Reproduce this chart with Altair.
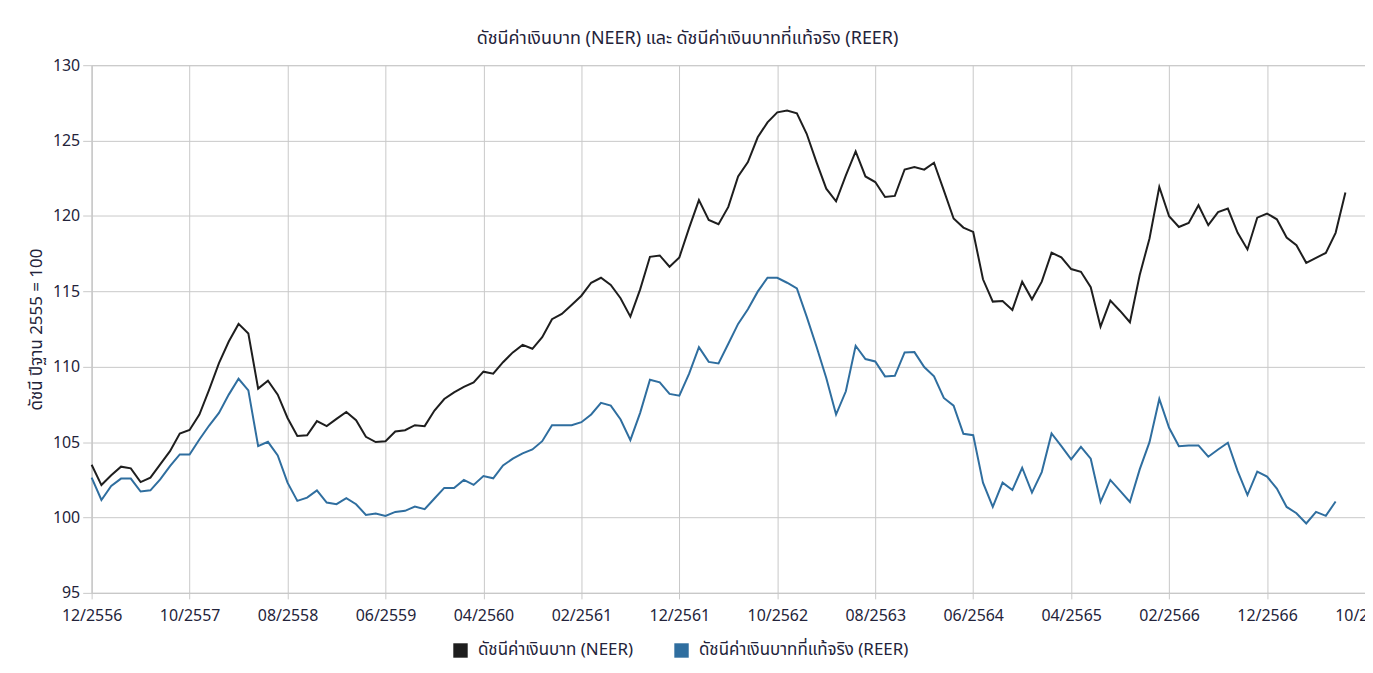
import altair as alt
import pandas as pd

# Monthly index values, first point = 12/2556
neer = [103.5, 102.15, 102.8, 103.37, 103.26, 102.35, 102.64, 103.52, 104.4, 105.57,
        105.8, 106.83, 108.48, 110.24, 111.67, 112.84, 112.2, 108.55, 109.07, 108.15,
        106.6, 105.4, 105.45, 106.39, 106.06, 106.54, 107.0, 106.45, 105.35, 105.0,
        105.06, 105.7, 105.79, 106.12, 106.06, 107.09, 107.86, 108.3, 108.66, 108.96,
        109.67, 109.54, 110.3, 110.95, 111.45, 111.19, 111.96, 113.15, 113.5, 114.1,
        114.71, 115.57, 115.9, 115.42, 114.54, 113.32, 115.13, 117.29, 117.38, 116.63,
        117.25, 119.21, 121.05, 119.74, 119.45, 120.6, 122.62, 123.57, 125.22, 126.21,
        126.87, 126.99, 126.81, 125.45, 123.57, 121.81, 120.97, 122.69, 124.28, 122.62,
        122.25, 121.26, 121.33, 123.08, 123.24, 123.07, 123.53, 121.7, 119.83, 119.23,
        118.94, 115.8, 114.32, 114.36, 113.77, 115.64, 114.47, 115.64, 117.56, 117.25,
        116.48, 116.3, 115.27, 112.66, 114.38, 113.7, 112.95, 116.08, 118.51, 121.92,
        119.98, 119.27, 119.54, 120.71, 119.39, 120.26, 120.49, 118.88, 117.78, 119.89,
        120.16, 119.78, 118.57, 118.06, 116.89, 117.22, 117.55, 118.88, 121.55]

reer = [102.64, 101.16, 102.09, 102.58, 102.58, 101.72, 101.8, 102.53, 103.41, 104.18,
        104.18, 105.17, 106.1, 106.94, 108.15, 109.2, 108.43, 104.73, 105.02, 104.12,
        102.31, 101.1, 101.32, 101.8, 100.99, 100.88, 101.28, 100.88, 100.17, 100.26,
        100.1, 100.37, 100.44, 100.73, 100.55, 101.26, 101.96, 101.96, 102.49, 102.16,
        102.75, 102.6, 103.45, 103.9, 104.25, 104.51, 105.06, 106.12, 106.12, 106.12,
        106.32, 106.83, 107.6, 107.42, 106.5, 105.13, 106.94, 109.14, 108.96, 108.2,
        108.08, 109.54, 111.29, 110.32, 110.22, 111.52, 112.84, 113.81, 114.98, 115.9,
        115.9, 115.57, 115.2, 113.32, 111.34, 109.25, 106.83, 108.37, 111.39, 110.51,
        110.35, 109.36, 109.4, 110.95, 110.97, 109.98, 109.36, 107.93, 107.42, 105.55,
        105.46, 102.31, 100.7, 102.31, 101.82, 103.3, 101.65, 103.01, 105.57, 104.73,
        103.85, 104.69, 103.9, 101.03, 102.49, 101.76, 101.03, 103.19, 105.0, 107.86,
        105.95, 104.73, 104.78, 104.78, 104.03, 104.51, 104.96, 103.08, 101.49, 103.04,
        102.71, 101.92, 100.7, 100.28, 99.6, 100.37, 100.11, 101.06]

tick_labels = ["12/2556", "10/2557", "08/2558", "06/2559", "04/2560", "02/2561",
               "12/2561", "10/2562", "08/2563", "06/2564", "04/2565", "02/2566",
               "12/2566", "10/2567"]
y_ticks = [95, 100, 105, 110, 115, 120, 125, 130]

series_names = ["ดัชนีค่าเงินบาท (NEER)", "ดัชนีค่าเงินบาทที่แท้จริง (REER)"]
series_colors = ["#1e1e1e", "#2f6e9f"]
chart_title = "ดัชนีค่าเงินบาท (NEER) และ ดัชนีค่าเงินบาทที่แท้จริง (REER)"
y_title = "ดัชนี ปีฐาน 2555 = 100"

rows = []
for i, v in enumerate(neer):
    rows.append({"m": i, "v": v, "s": series_names[0]})
for i, v in enumerate(reer):
    rows.append({"m": i, "v": v, "s": series_names[1]})
df = pd.DataFrame(rows)

x_values = [i * 10 for i in range(len(tick_labels))]
label_expr = "[" + ",".join("'" + t + "'" for t in tick_labels) + "][round(datum.value/10)]"

FONT = "Noto Sans Thai, Noto Sans, sans-serif"
TXT = "#23233a"
GRID = "#c9c9c9"

chart = alt.Chart(df).mark_line(strokeWidth=2).encode(
    x=alt.X("m:Q",
            scale=alt.Scale(domain=[0, 130], nice=False, zero=False),
            axis=alt.Axis(values=x_values, labelExpr=label_expr, title=None,
                          grid=True, gridColor=GRID, domainColor=GRID,
                          tickColor=GRID, tickSize=6, labelPadding=9,
                          labelFontSize=16, labelColor=TXT, labelFont=FONT,
                          labelOverlap=False, labelFlush=False)),
    y=alt.Y("v:Q",
            scale=alt.Scale(domain=[95, 130], nice=False, zero=False),
            axis=alt.Axis(values=y_ticks, title=y_title, grid=True,
                          gridColor=GRID, domainColor=GRID, tickColor=GRID,
                          tickSize=9, labelPadding=3, labelFontSize=16,
                          labelColor=TXT, labelFont=FONT, labelFlush=False,
                          titleFontSize=17, titleFontWeight="normal",
                          titleColor=TXT, titleFont=FONT, titlePadding=7)),
    color=alt.Color("s:N",
                    scale=alt.Scale(domain=series_names, range=series_colors),
                    legend=alt.Legend(title=None, orient="none", direction="horizontal",
                                      legendX=362, legendY=579,
                                      symbolType="square", symbolSize=30,
                                      symbolStrokeWidth=9,
                                      labelFontSize=17, labelColor=TXT, labelFont=FONT,
                                      labelLimit=500, columnPadding=26, labelOffset=9)),
).properties(
    width=1279,
    height=530,
    autosize=alt.AutoSizeParams(type="none"),
    padding={"left": 84, "top": 56, "right": 0, "bottom": 70},
    title=alt.TitleParams(text=chart_title, fontSize=18, fontWeight="normal",
                          color=TXT, font=FONT, anchor="middle", dx=-41, offset=9),
).configure_view(stroke=GRID)

chart.save("out.html", embed_options={"renderer": "svg", "actions": False})
